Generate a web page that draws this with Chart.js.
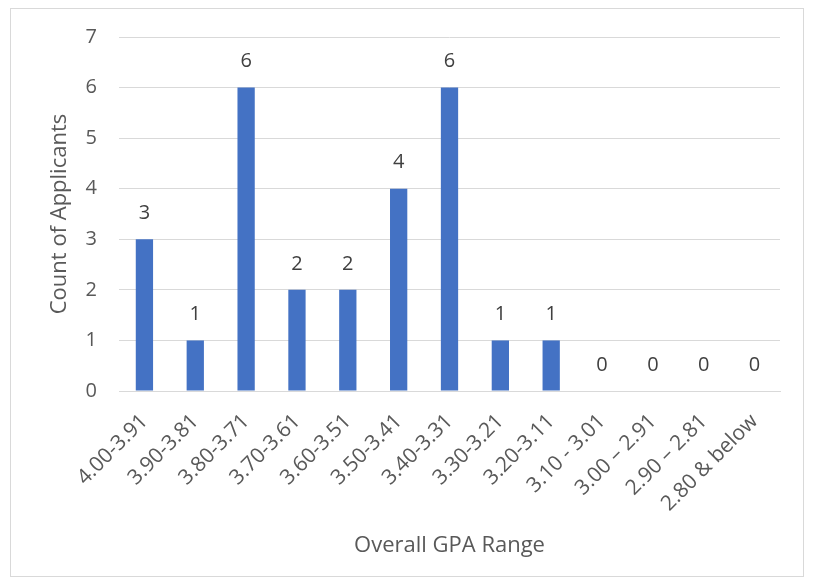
<!DOCTYPE html>
<html>
<head>
<meta charset="utf-8">
<script src="https://cdn.jsdelivr.net/npm/chart.js@4"></script>
<style>
	body { margin: 0; background: #ffffff; }
	#frame {
		position: absolute; left: 10px; top: 8px;
		width: 794px; height: 569px;
		border: 1px solid #d9d9d9; box-sizing: border-box;
	}
</style>
</head>
<body>
<div id="frame"><canvas id="myChart"></canvas></div>
<script>
// 카테고리 / 값
const gpaRanges = ['4.00-3.91', '3.90-3.81', '3.80-3.71', '3.70-3.61', '3.60-3.51', '3.50-3.41',
	'3.40-3.31', '3.30-3.21', '3.20-3.11', '3.10 - 3.01', '3.00 \u2013 2.91', '2.90 \u2013 2.81', '2.80 & below'];
const applicantCounts = [3, 1, 6, 2, 2, 4, 6, 1, 1, 0, 0, 0, 0];
const yTicks = [0, 1, 2, 3, 4, 5, 6, 7];

const fontFamily = "'Open Sans', 'Noto Sans', sans-serif";
const textColor = '#595959';
const gridColor = '#d9d9d9';

// 막대 위 값 표시
const valueLabels = {
	id: 'valueLabels',
	afterDatasetsDraw(chart) {
		const ctx = chart.ctx;
		const meta = chart.getDatasetMeta(0);
		ctx.save();
		ctx.font = `20px ${fontFamily}`;
		ctx.fillStyle = '#404040';
		ctx.textAlign = 'center';
		ctx.textBaseline = 'middle';
		meta.data.forEach((bar, i) => {
			ctx.fillText(String(applicantCounts[i]), bar.x, bar.y - 26);
		});
		ctx.restore();
	}
};

new Chart(document.getElementById('myChart'), {
	type: 'bar',
	data: {
		labels: gpaRanges,
		datasets: [{
			data: applicantCounts,
			backgroundColor: '#4472c4',
			categoryPercentage: 1,
			barPercentage: 0.34
		}]
	},
	options: {
		responsive: true,
		maintainAspectRatio: false,
		animation: false,
		layout: { padding: { left: 0, right: 23, top: 28, bottom: 0 } },
		plugins: {
			legend: { display: false },
			tooltip: { enabled: false }
		},
		scales: {
			x: {
				afterFit: (axis) => { axis.height = 185; },
				grid: { display: false },
				border: { color: gridColor },
				ticks: {
					color: textColor,
					font: { family: fontFamily, size: 21 },
					maxRotation: 45,
					minRotation: 45,
					autoSkip: false,
					padding: 10
				},
				title: {
					display: true,
					text: 'Overall GPA Range',
					color: textColor,
					font: { family: fontFamily, size: 22 },
					padding: { top: 0, bottom: 17 }
				}
			},
			y: {
				min: 0,
				max: 7,
				afterFit: (axis) => {
					axis.width = 108;
					// 틱 padding 때문에 위쪽 여백이 커지는 것 방지
					axis.paddingTop = 12;
					axis.paddingBottom = 12;
				},
				afterBuildTicks: (axis) => { axis.ticks = yTicks.map(v => ({ value: v })); },
				grid: { color: gridColor, drawTicks: false },
				border: { display: false },
				ticks: {
					color: textColor,
					font: { family: fontFamily, size: 20 },
					padding: 22
				},
				title: {
					display: true,
					text: 'Count of Applicants',
					color: textColor,
					font: { family: fontFamily, size: 22 },
					padding: { top: 36, bottom: 0 }
				}
			}
		}
	},
	plugins: [valueLabels]
});
</script>
</body>
</html>
